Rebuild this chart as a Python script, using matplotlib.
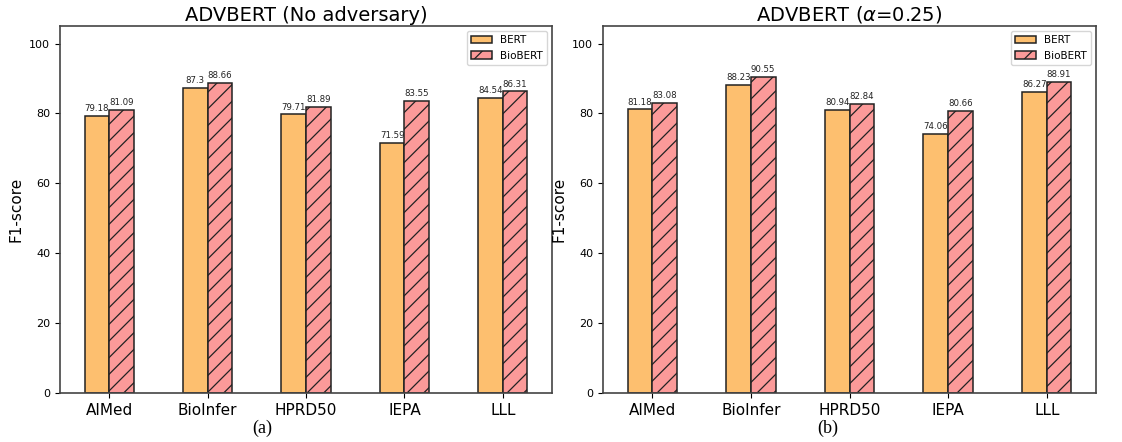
import numpy as np
import matplotlib
matplotlib.use('Agg')
import matplotlib.pyplot as plt

datasets = ['AIMed', 'BioInfer', 'HPRD50', 'IEPA', 'LLL']

# (a) no adversary
bert_a = [79.18, 87.3, 79.71, 71.59, 84.54]
biobert_a = [81.09, 88.66, 81.89, 83.55, 86.31]

# (b) alpha = 0.25
bert_b = [81.18, 88.23, 80.94, 74.06, 86.27]
biobert_b = [83.08, 90.55, 82.84, 80.66, 88.91]

titles = ['ADVBERT (No adversary)', r'ADVBERT ($\alpha$=0.25)']
captions = ['(a)', '(b)']

plt.rcParams['hatch.linewidth'] = 0.9

fig = plt.figure(figsize=(11.22, 4.42), dpi=100)
ax_a = fig.add_axes([0.0535, 0.111, 0.4385, 0.830])
ax_b = fig.add_axes([0.5374, 0.111, 0.4395, 0.830])

x = np.arange(len(datasets))
w = 0.25

for ax, bert, bio, title in [(ax_a, bert_a, biobert_a, titles[0]),
                             (ax_b, bert_b, biobert_b, titles[1])]:
    b1 = ax.bar(x - w / 2, bert, w, color='#fdbf6f', edgecolor='#222222',
                linewidth=1.1, label='BERT')
    b2 = ax.bar(x + w / 2, bio, w, color='#fb9a99', edgecolor='#222222',
                linewidth=1.1, hatch='//', label='BioBERT')
    # 막대 위 값 표시
    for bars in (b1, b2):
        for r in bars:
            ax.text(r.get_x() + r.get_width() / 2, r.get_height() + 0.8,
                    f'{r.get_height():g}', ha='center', va='bottom',
                    fontsize=6.2, color='#222222')
    ax.set_xticks(x)
    ax.set_xticklabels(datasets, fontsize=11)
    ax.set_xlim(-0.5, 4.5)
    ax.set_ylim(0, 105)
    ax.set_yticks([0, 20, 40, 60, 80, 100])
    ax.tick_params(axis='y', labelsize=8)
    ax.set_ylabel('F1-score', fontsize=11)
    ax.set_title(title, fontsize=14, pad=4)
    ax.legend(loc='upper right', fontsize=7.5)
    for s in ax.spines.values():
        s.set_color('#444444')
        s.set_linewidth(1.2)

fig.text(0.2335, 0.03, captions[0], ha='center', va='center',
         family='Liberation Serif', fontsize=13)
fig.text(0.738, 0.03, captions[1], ha='center', va='center',
         family='Liberation Serif', fontsize=13)

fig.savefig('out.png', dpi=100)
